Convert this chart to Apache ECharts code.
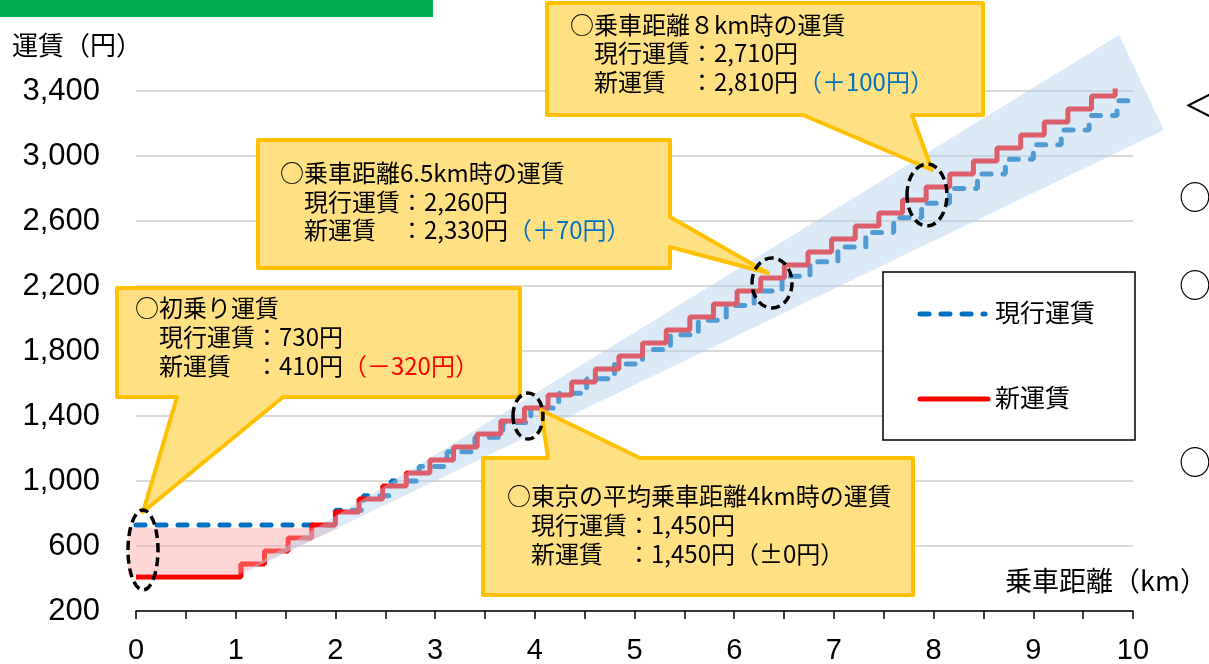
<!DOCTYPE html>
<html><head><meta charset="utf-8">
<script src="https://cdn.jsdelivr.net/npm/echarts/dist/echarts.min.js"></script>
<style>html,body{margin:0;padding:0;background:#fff}#c{width:1209px;height:664px}</style>
</head><body><div id="c"></div>
<script>
// ---- data ----
const xTicks = [0,1,2,3,4,5,6,7,8,9,10];
const yTicks = [200,600,1000,1400,1800,2200,2600,3000,3400];
// 現行運賃 (current fare): distance (km) where each fare level starts
const currentDist = [0,2.00,2.28,2.56,2.84,3.12,3.40,3.68,3.96,4.24,4.52,4.80,5.08,5.36,5.64,5.92,6.20,6.48,6.76,7.04,7.32,7.60,7.88,8.16,8.44,8.72,9.00,9.28,9.56,9.84];
const currentFare = [730,820,910,1000,1090,1180,1270,1360,1450,1540,1630,1720,1810,1900,1990,2080,2170,2260,2350,2440,2530,2620,2710,2800,2890,2980,3070,3160,3250,3340];
const currentEnd = 10.0;
// 新運賃 (new fare)
const newDist = [0,1.052,1.289,1.526,1.763,2.000,2.237,2.474,2.711,2.948,3.185,3.422,3.659,3.896,4.133,4.370,4.607,4.844,5.081,5.318,5.555,5.792,6.029,6.266,6.503,6.740,6.977,7.214,7.451,7.688,7.925,8.162,8.399,8.636,8.873,9.110,9.347,9.584,9.821];
const newFare = [410,490,570,650,730,810,890,970,1050,1130,1210,1290,1370,1450,1530,1610,1690,1770,1850,1930,2010,2090,2170,2250,2330,2410,2490,2570,2650,2730,2810,2890,2970,3050,3130,3210,3290,3370,3450];
const newEnd = 10.0;
const seriesNames = ['現行運賃','新運賃'];

// ---- decoration shapes (data coords) ----
const pinkShape = [[-0.08,425],[1.02,425],[2.04,712],[-0.08,712]];
const bandShape = [[1.02,415],[9.86,3745],[10.31,3160]];

function steps(dist, fare, end){
  const d = dist.map((x,i)=>[x, fare[i]]);
  d.push([end, fare[fare.length-1]]);
  return d;
}

const JP = '"Noto Sans CJK JP","Noto Sans CJK SC",sans-serif';
const chart = echarts.init(document.getElementById('c'), null, {renderer:'canvas'});

function polySeries(shape, fill){
  return {type:'custom', coordinateSystem:'cartesian2d', clip:false, silent:true, z:3,
    data:[[0,0]],
    renderItem:(params, api)=>({type:'polygon', shape:{points: shape.map(p=>api.coord(p))}, style:{fill:fill}})};
}

function textLine(x, y, text, rich){
  return {type:'text', x:x, y:y, z:20, style:{text:text, font:'24px '+JP, fill:'#000',
    textVerticalAlign:'middle', verticalAlign:'middle', rich: rich||{}}};
}
const richRed = {r:{fill:'#FF0000', color:'#FF0000', font:'24px '+JP}};
const richBlue = {b:{fill:'#0070C0', color:'#0070C0', font:'24px '+JP}};

const callStyle = {fill:'#FFE083', stroke:'#FFC000', lineWidth:4, lineJoin:'round'};
function callout(points){ return {type:'polygon', z:15, shape:{points:points}, style:callStyle}; }
function ell(cx,cy,rx,ry){ return {type:'ellipse', z:25, shape:{cx:cx,cy:cy,rx:rx,ry:ry}, style:{fill:'none', stroke:'#000', lineWidth:3.5, lineDash:[9,5]}}; }

const option = {
  animation:false,
  backgroundColor:'#fff',
  grid:{left:136, right:76, top:91, bottom:53, outerBoundsMode:'none', containLabel:false},
  xAxis:{type:'value', min:xTicks[0], max:xTicks[xTicks.length-1], interval:1,
    axisLine:{lineStyle:{color:'#000', width:1.5}},
    axisTick:{length:8, lineStyle:{color:'#000', width:1.5}},
    minorTick:{show:true, splitNumber:2, length:8, lineStyle:{color:'#000', width:1.5}},
    splitLine:{show:false},
    axisLabel:{margin:25, fontSize:29, fontFamily:'"Liberation Sans Narrow","Arial Narrow","Liberation Sans",sans-serif', color:'#000',
      formatter:v=> xTicks.includes(v) ? String(v) : ''}},
  yAxis:{type:'value', min:yTicks[0], max:yTicks[yTicks.length-1], interval:400,
    axisLine:{show:false}, axisTick:{show:false},
    splitLine:{lineStyle:{color:'#d9d9d9', width:2}},
    axisLabel:{margin:36, fontSize:31, fontFamily:'"Liberation Sans",Arial,sans-serif', color:'#000',
      formatter:v=> v.toLocaleString('en-US')}},
  series:[
    {name:seriesNames[0], type:'line', step:'end', symbol:'none', showSymbol:false, z:2,
      data:steps(currentDist, currentFare, currentEnd),
      lineStyle:{color:'#0070C0', width:5, type:[9,12], cap:'round'}},
    {name:seriesNames[1], type:'line', step:'end', symbol:'none', showSymbol:false, z:2,
      data:steps(newDist, newFare, newEnd),
      lineStyle:{color:'#FF0000', width:5}},
    polySeries(pinkShape, 'rgba(255,165,165,0.45)'),
    polySeries(bandShape, 'rgba(178,209,237,0.45)')
  ],
  graphic:[
    {type:'rect', z:10, shape:{x:0,y:0,width:433,height:17}, style:{fill:'#00B050'}},
    {type:'text', x:12, y:45, z:10, style:{text:'運賃（円）', font:'26px '+JP, fill:'#000', textVerticalAlign:'middle', verticalAlign:'middle'}},
    {type:'text', x:1005, y:581, z:10, style:{text:'乗車距離（km）', font:'27px '+JP, fill:'#000', textVerticalAlign:'middle', verticalAlign:'middle'}},
    // right cut-off text
    {type:'text', x:1183, y:105, z:10, style:{text:'＜', font:'32px '+JP, fill:'#000', textVerticalAlign:'middle', verticalAlign:'middle'}},
    {type:'text', x:1179, y:197, z:10, style:{text:'○', font:'32px '+JP, fill:'#000', textVerticalAlign:'middle', verticalAlign:'middle'}},
    {type:'text', x:1179, y:285, z:10, style:{text:'○', font:'32px '+JP, fill:'#000', textVerticalAlign:'middle', verticalAlign:'middle'}},
    {type:'text', x:1179, y:462, z:10, style:{text:'○', font:'32px '+JP, fill:'#000', textVerticalAlign:'middle', verticalAlign:'middle'}},
    // legend
    {type:'rect', z:10, shape:{x:883,y:272,width:252,height:168}, style:{fill:'#fff', stroke:'#000', lineWidth:1.5}},
    {type:'line', z:11, shape:{x1:920,y1:314,x2:985,y2:314}, style:{stroke:'#0070C0', lineWidth:5, lineDash:[9,12], lineCap:'round'}},
    {type:'text', x:995, y:312, z:11, style:{text:seriesNames[0], font:'25px '+JP, fill:'#000', textVerticalAlign:'middle', verticalAlign:'middle'}},
    {type:'line', z:11, shape:{x1:920,y1:399,x2:988,y2:399}, style:{stroke:'#FF0000', lineWidth:5, lineCap:'round'}},
    {type:'text', x:995, y:397, z:11, style:{text:seriesNames[1], font:'25px '+JP, fill:'#000', textVerticalAlign:'middle', verticalAlign:'middle'}},
    // callouts
    callout([[117,288],[520,288],[520,397],[283,397],[143,512],[177,397],[117,397]]),
    textLine(135,308,'○初乗り運賃'),
    textLine(135,337,'　現行運賃：730円'),
    textLine(135,366,'　新運賃　：410円{r|（－320円）}', richRed),
    callout([[258,140],[670,140],[670,217],[768,273],[670,247],[670,268],[258,268]]),
    textLine(280,173,'○乗車距離6.5km時の運賃'),
    textLine(280,202,'　現行運賃：2,260円'),
    textLine(280,230,'　新運賃　：2,330円{b|（＋70円）}', richBlue),
    callout([[547,3],[983,3],[983,115],[912,115],[932,170],[803,115],[547,115]]),
    textLine(570,25,'○乗車距離８km時の運賃'),
    textLine(570,53,'　現行運賃：2,710円'),
    textLine(570,82,'　新運賃　：2,810円{b|（＋100円）}', richBlue),
    callout([[483,458],[548,458],[541,410],[640,458],[913,458],[913,595],[483,595]]),
    textLine(507,496,'○東京の平均乗車距離4km時の運賃'),
    textLine(507,525,'　現行運賃：1,450円'),
    textLine(507,554,'　新運賃　：1,450円（±0円）'),
    // ellipses
    ell(143,550,15,40),
    ell(528,416,15,23),
    ell(772,283,20,25),
    ell(927,195,20,31)
  ]
};
chart.setOption(option);
</script></body></html>
